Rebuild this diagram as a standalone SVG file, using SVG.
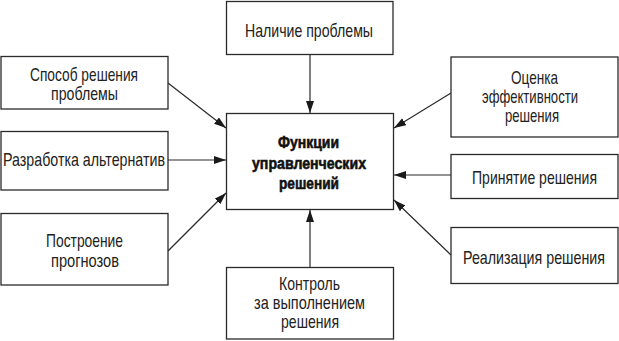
<svg xmlns="http://www.w3.org/2000/svg" width="619" height="341" viewBox="0 0 619 341">
<style>
.box{fill:#fff;stroke:#2a2a2a;stroke-width:1.3}
.t{font-family:"Liberation Sans",Arial,sans-serif;font-size:18.5px;fill:#222;text-anchor:middle}
.b{font-family:"Liberation Sans",Arial,sans-serif;font-size:17px;font-weight:bold;fill:#111;stroke:#111;stroke-width:0.6;text-anchor:middle}
.c{stroke:#2a2a2a;stroke-width:1.2;fill:none;marker-end:url(#ah)}
</style>
<defs>
<marker id="ah" markerUnits="userSpaceOnUse" markerWidth="13" markerHeight="9" refX="12" refY="4" orient="auto">
<path d="M0,0 L12,4 L0,8 z" fill="#1a1a1a"/>
</marker>
</defs>
<rect width="619" height="341" fill="#fff"/>
<g id="connectors">
<line class="c" x1="310" y1="55" x2="310" y2="113"/>
<line class="c" x1="168" y1="83" x2="226" y2="128"/>
<line class="c" x1="168" y1="160" x2="226" y2="160"/>
<line class="c" x1="168" y1="251" x2="226" y2="193"/>
<line class="c" x1="310" y1="267" x2="310" y2="210"/>
<line class="c" x1="451" y1="93" x2="394" y2="128"/>
<line class="c" x1="451" y1="175" x2="394" y2="175"/>
<line class="c" x1="451" y1="255" x2="394" y2="200"/>
</g>
<g id="center">
<rect class="box" x="226.5" y="113.5" width="167" height="96"/>
<text class="b" x="308.5" y="148" textLength="61" lengthAdjust="spacingAndGlyphs">Функции</text>
<text class="b" x="309" y="168.5" textLength="114" lengthAdjust="spacingAndGlyphs">управленческих</text>
<text class="b" x="309" y="189" textLength="60" lengthAdjust="spacingAndGlyphs">решений</text>
</g>
<g id="problem">
<rect class="box" x="226.5" y="1.5" width="166.5" height="53"/>
<text class="t" x="309" y="36.5" textLength="128" lengthAdjust="spacingAndGlyphs">Наличие проблемы</text>
</g>
<g id="method">
<rect class="box" x="1" y="56.5" width="167" height="52.5"/>
<text class="t" x="84" y="81" textLength="108" lengthAdjust="spacingAndGlyphs">Способ решения</text>
<text class="t" x="84.5" y="100" textLength="67" lengthAdjust="spacingAndGlyphs">проблемы</text>
</g>
<g id="alternatives">
<rect class="box" x="1" y="131.5" width="167" height="58.5"/>
<text class="t" x="84" y="166" textLength="162" lengthAdjust="spacingAndGlyphs">Разработка альтернатив</text>
</g>
<g id="forecast">
<rect class="box" x="1" y="213.5" width="167" height="71.5"/>
<text class="t" x="84.5" y="247" textLength="77" lengthAdjust="spacingAndGlyphs">Построение</text>
<text class="t" x="85" y="267" textLength="68" lengthAdjust="spacingAndGlyphs">прогнозов</text>
</g>
<g id="control">
<rect class="box" x="226.5" y="267.5" width="167" height="71.5"/>
<text class="t" x="309.5" y="290" textLength="61" lengthAdjust="spacingAndGlyphs">Контроль</text>
<text class="t" x="309.5" y="309" textLength="111" lengthAdjust="spacingAndGlyphs">за выполнением</text>
<text class="t" x="310" y="328" textLength="58" lengthAdjust="spacingAndGlyphs">решения</text>
</g>
<g id="evaluation">
<rect class="box" x="451" y="57" width="167" height="80"/>
<text class="t" x="534.5" y="84" textLength="47" lengthAdjust="spacingAndGlyphs">Оценка</text>
<text class="t" x="530" y="103" textLength="96" lengthAdjust="spacingAndGlyphs">эффективности</text>
<text class="t" x="532" y="122" textLength="54" lengthAdjust="spacingAndGlyphs">решения</text>
</g>
<g id="adoption">
<rect class="box" x="451" y="154.5" width="167" height="44"/>
<text class="t" x="534.5" y="184" textLength="125" lengthAdjust="spacingAndGlyphs">Принятие решения</text>
</g>
<g id="implementation">
<rect class="box" x="451" y="227.5" width="167" height="56"/>
<text class="t" x="534" y="264" textLength="142" lengthAdjust="spacingAndGlyphs">Реализация решения</text>
</g>
</svg>
